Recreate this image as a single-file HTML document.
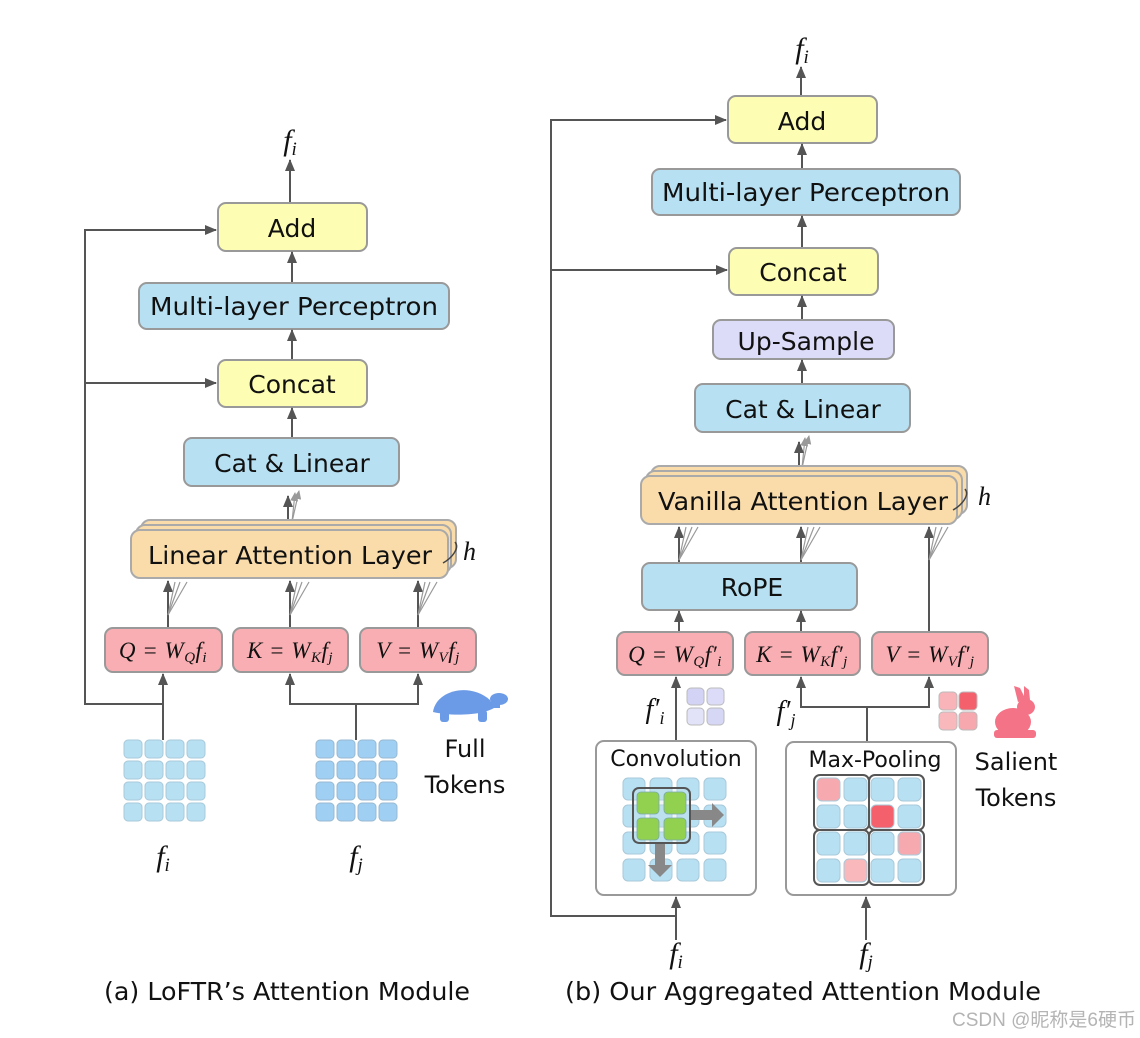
<!DOCTYPE html>
<html><head><meta charset="utf-8">
<style>
html,body{margin:0;padding:0;background:#fff;}
svg{display:block;}
.t{font-family:"DejaVu Sans","Liberation Sans",sans-serif;fill:#111;}
.m{font-family:"Liberation Serif",serif;font-style:italic;fill:#111;}
.ln{stroke:#555;stroke-width:2;fill:none;}
.fan{stroke:#999;stroke-width:1.2;fill:none;}
</style></head><body>
<svg width="1140" height="1038" viewBox="0 0 1140 1038" xmlns="http://www.w3.org/2000/svg">
<defs>
<marker id="a" markerWidth="12" markerHeight="10" refX="11" refY="5" orient="auto" markerUnits="userSpaceOnUse">
<path d="M0,0 L12,5 L0,10 z" fill="#555"/></marker>
<marker id="g" markerWidth="9" markerHeight="8" refX="8" refY="4" orient="auto" markerUnits="userSpaceOnUse">
<path d="M0,0 L9,4 L0,8 z" fill="#999"/></marker>
</defs>

<!-- ================= LEFT ================= -->
<text class="m" x="290" y="150" font-size="30" text-anchor="middle">f<tspan font-size="19" dy="5">i</tspan></text>
<line class="ln" x1="290" y1="203" x2="290" y2="160" marker-end="url(#a)"/>
<rect x="218" y="203" width="149" height="48" rx="8" fill="#fdfdb3" stroke="#999" stroke-width="2"/>
<text class="t" x="292" y="237" font-size="25" text-anchor="middle">Add</text>
<line class="ln" x1="292" y1="283" x2="292" y2="252" marker-end="url(#a)"/>
<rect x="139" y="283" width="310" height="46" rx="8" fill="#b7e1f3" stroke="#999" stroke-width="2"/>
<text class="t" x="294" y="315" font-size="25" text-anchor="middle" textLength="288" lengthAdjust="spacingAndGlyphs">Multi-layer Perceptron</text>
<line class="ln" x1="292" y1="360" x2="292" y2="330" marker-end="url(#a)"/>
<rect x="218" y="360" width="149" height="47" rx="8" fill="#fdfdb3" stroke="#999" stroke-width="2"/>
<text class="t" x="292" y="393" font-size="25" text-anchor="middle">Concat</text>
<line class="ln" x1="292" y1="438" x2="292" y2="408" marker-end="url(#a)"/>
<rect x="184" y="438" width="215" height="48" rx="8" fill="#b7e1f3" stroke="#999" stroke-width="2"/>
<text class="t" x="292" y="472" font-size="25" text-anchor="middle">Cat &amp; Linear</text>
<line class="fan" x1="292" y1="522" x2="299" y2="491" marker-end="url(#g)"/>
<line class="fan" x1="292" y1="522" x2="295" y2="493" marker-end="url(#g)"/>
<line class="ln" x1="288" y1="530" x2="288" y2="496" marker-end="url(#a)"/>
<rect x="141" y="520" width="315" height="48" rx="9" fill="#f9dcaa" stroke="#aaa" stroke-width="2"/>
<rect x="136" y="525" width="315" height="48" rx="9" fill="#f9dcaa" stroke="#aaa" stroke-width="2"/>
<rect x="131" y="530" width="317" height="48" rx="9" fill="#f9dcaa" stroke="#aaa" stroke-width="2"/>
<text class="t" x="290" y="564" font-size="25" text-anchor="middle" textLength="284" lengthAdjust="spacingAndGlyphs">Linear Attention Layer</text>
<path d="M443,563 C452,558 460,548 455,542" stroke="#444" stroke-width="1.5" fill="none"/>
<text class="m" x="463" y="560" font-size="26">h</text>
<g>
<line class="ln" x1="168" y1="628" x2="168" y2="581" marker-end="url(#a)"/>
<line class="fan" x1="168" y1="615" x2="175" y2="582"/><line class="fan" x1="168" y1="615" x2="180" y2="582"/><line class="fan" x1="168" y1="615" x2="187" y2="582"/>
<line class="ln" x1="290" y1="628" x2="290" y2="581" marker-end="url(#a)"/>
<line class="fan" x1="290" y1="615" x2="297" y2="582"/><line class="fan" x1="290" y1="615" x2="302" y2="582"/><line class="fan" x1="290" y1="615" x2="309" y2="582"/>
<line class="ln" x1="418" y1="628" x2="418" y2="581" marker-end="url(#a)"/>
<line class="fan" x1="418" y1="615" x2="425" y2="582"/><line class="fan" x1="418" y1="615" x2="430" y2="582"/><line class="fan" x1="418" y1="615" x2="437" y2="582"/>
</g>
<rect x="105" y="628" width="117" height="44" rx="8" fill="#f8aeb2" stroke="#999" stroke-width="2"/>
<text class="m" x="163" y="658" font-size="23" text-anchor="middle" letter-spacing="0.5">Q = W<tspan font-size="15" dy="4">Q</tspan><tspan dy="-4">f</tspan><tspan font-size="15" dy="4">i</tspan></text>
<rect x="233" y="628" width="115" height="44" rx="8" fill="#f8aeb2" stroke="#999" stroke-width="2"/>
<text class="m" x="290" y="658" font-size="23" text-anchor="middle" letter-spacing="0.5">K = W<tspan font-size="15" dy="4">K</tspan><tspan dy="-4">f</tspan><tspan font-size="15" dy="4">j</tspan></text>
<rect x="360" y="628" width="116" height="44" rx="8" fill="#f8aeb2" stroke="#999" stroke-width="2"/>
<text class="m" x="418" y="658" font-size="23" text-anchor="middle" letter-spacing="0.5">V = W<tspan font-size="15" dy="4">V</tspan><tspan dy="-4">f</tspan><tspan font-size="15" dy="4">j</tspan></text>
<polyline class="ln" points="163,740 163,704 85,704 85,230 216,230" marker-end="url(#a)"/>
<line class="ln" x1="85" y1="383" x2="216" y2="383" marker-end="url(#a)"/>
<line class="ln" x1="163" y1="704" x2="163" y2="674" marker-end="url(#a)"/>
<polyline class="ln" points="356,740 356,704"/>
<polyline class="ln" points="290,704 418,704"/>
<line class="ln" x1="290" y1="705" x2="290" y2="674" marker-end="url(#a)"/>
<line class="ln" x1="418" y1="705" x2="418" y2="674" marker-end="url(#a)"/>
<g fill="#b7e1f3" stroke="#a9c9d9" stroke-width="1">
<rect x="124" y="740" width="18" height="18" rx="4"/><rect x="145" y="740" width="18" height="18" rx="4"/><rect x="166" y="740" width="18" height="18" rx="4"/><rect x="187" y="740" width="18" height="18" rx="4"/>
<rect x="124" y="761" width="18" height="18" rx="4"/><rect x="145" y="761" width="18" height="18" rx="4"/><rect x="166" y="761" width="18" height="18" rx="4"/><rect x="187" y="761" width="18" height="18" rx="4"/>
<rect x="124" y="782" width="18" height="18" rx="4"/><rect x="145" y="782" width="18" height="18" rx="4"/><rect x="166" y="782" width="18" height="18" rx="4"/><rect x="187" y="782" width="18" height="18" rx="4"/>
<rect x="124" y="803" width="18" height="18" rx="4"/><rect x="145" y="803" width="18" height="18" rx="4"/><rect x="166" y="803" width="18" height="18" rx="4"/><rect x="187" y="803" width="18" height="18" rx="4"/>
</g>
<g fill="#9fd0f4" stroke="#98b9d0" stroke-width="1">
<rect x="316" y="740" width="18" height="18" rx="4"/><rect x="337" y="740" width="18" height="18" rx="4"/><rect x="358" y="740" width="18" height="18" rx="4"/><rect x="379" y="740" width="18" height="18" rx="4"/>
<rect x="316" y="761" width="18" height="18" rx="4"/><rect x="337" y="761" width="18" height="18" rx="4"/><rect x="358" y="761" width="18" height="18" rx="4"/><rect x="379" y="761" width="18" height="18" rx="4"/>
<rect x="316" y="782" width="18" height="18" rx="4"/><rect x="337" y="782" width="18" height="18" rx="4"/><rect x="358" y="782" width="18" height="18" rx="4"/><rect x="379" y="782" width="18" height="18" rx="4"/>
<rect x="316" y="803" width="18" height="18" rx="4"/><rect x="337" y="803" width="18" height="18" rx="4"/><rect x="358" y="803" width="18" height="18" rx="4"/><rect x="379" y="803" width="18" height="18" rx="4"/>
</g>
<text class="m" x="163" y="866" font-size="30" text-anchor="middle">f<tspan font-size="19" dy="5">i</tspan></text>
<text class="m" x="356" y="866" font-size="30" text-anchor="middle">f<tspan font-size="19" dy="5">j</tspan></text>
<g fill="#6b9be6">
<path d="M433,712 C436,690 470,682 490,700 L494,708 C480,716 450,716 433,712 z"/>
<ellipse cx="499" cy="699" rx="9" ry="6"/>
<path d="M490,702 L500,702 L500,708 L492,708 z"/>
<rect x="440" y="710" width="9" height="12" rx="3"/>
<rect x="478" y="710" width="9" height="12" rx="3"/>
</g>
<text class="t" x="465" y="757" font-size="24" text-anchor="middle">Full</text>
<text class="t" x="465" y="793" font-size="24" text-anchor="middle">Tokens</text>
<text class="t" x="287" y="1000" font-size="25" text-anchor="middle" textLength="366" lengthAdjust="spacingAndGlyphs">(a) LoFTR’s Attention Module</text>

<!-- ================= RIGHT ================= -->
<text class="m" x="802" y="58" font-size="30" text-anchor="middle">f<tspan font-size="19" dy="5">i</tspan></text>
<line class="ln" x1="801" y1="96" x2="801" y2="67" marker-end="url(#a)"/>
<rect x="728" y="96" width="149" height="47" rx="8" fill="#fdfdb3" stroke="#999" stroke-width="2"/>
<text class="t" x="802" y="130" font-size="25" text-anchor="middle">Add</text>
<line class="ln" x1="802" y1="169" x2="802" y2="144" marker-end="url(#a)"/>
<rect x="652" y="169" width="308" height="46" rx="8" fill="#b7e1f3" stroke="#999" stroke-width="2"/>
<text class="t" x="806" y="201" font-size="25" text-anchor="middle" textLength="288" lengthAdjust="spacingAndGlyphs">Multi-layer Perceptron</text>
<line class="ln" x1="802" y1="248" x2="802" y2="216" marker-end="url(#a)"/>
<rect x="729" y="248" width="149" height="47" rx="8" fill="#fdfdb3" stroke="#999" stroke-width="2"/>
<text class="t" x="803" y="281" font-size="25" text-anchor="middle">Concat</text>
<line class="ln" x1="802" y1="320" x2="802" y2="296" marker-end="url(#a)"/>
<rect x="713" y="320" width="181" height="39" rx="8" fill="#dcdcf8" stroke="#999" stroke-width="2"/>
<text class="t" x="806" y="350" font-size="25" text-anchor="middle">Up-Sample</text>
<line class="ln" x1="802" y1="384" x2="802" y2="360" marker-end="url(#a)"/>
<rect x="695" y="384" width="215" height="48" rx="8" fill="#b7e1f3" stroke="#999" stroke-width="2"/>
<text class="t" x="803" y="418" font-size="25" text-anchor="middle">Cat &amp; Linear</text>
<line class="fan" x1="802" y1="468" x2="809" y2="436" marker-end="url(#g)"/>
<line class="fan" x1="802" y1="468" x2="805" y2="438" marker-end="url(#g)"/>
<line class="ln" x1="799" y1="476" x2="799" y2="442" marker-end="url(#a)"/>
<rect x="651" y="466" width="316" height="48" rx="9" fill="#f9dcaa" stroke="#aaa" stroke-width="2"/>
<rect x="646" y="471" width="316" height="48" rx="9" fill="#f9dcaa" stroke="#aaa" stroke-width="2"/>
<rect x="641" y="476" width="316" height="48" rx="9" fill="#f9dcaa" stroke="#aaa" stroke-width="2"/>
<text class="t" x="803" y="510" font-size="25" text-anchor="middle" textLength="290" lengthAdjust="spacingAndGlyphs">Vanilla Attention Layer</text>
<path d="M953,510 C962,505 970,495 965,489" stroke="#444" stroke-width="1.5" fill="none"/>
<text class="m" x="978" y="505" font-size="26">h</text>
<line class="ln" x1="679" y1="563" x2="679" y2="527" marker-end="url(#a)"/>
<line class="fan" x1="679" y1="560" x2="686" y2="527"/><line class="fan" x1="679" y1="560" x2="692" y2="527"/><line class="fan" x1="679" y1="560" x2="698" y2="527"/>
<line class="ln" x1="801" y1="563" x2="801" y2="527" marker-end="url(#a)"/>
<line class="fan" x1="801" y1="560" x2="808" y2="527"/><line class="fan" x1="801" y1="560" x2="814" y2="527"/><line class="fan" x1="801" y1="560" x2="820" y2="527"/>
<line class="ln" x1="929" y1="632" x2="929" y2="527" marker-end="url(#a)"/>
<line class="fan" x1="929" y1="560" x2="936" y2="527"/><line class="fan" x1="929" y1="560" x2="942" y2="527"/><line class="fan" x1="929" y1="560" x2="948" y2="527"/>
<rect x="642" y="563" width="215" height="47" rx="8" fill="#b7e1f3" stroke="#999" stroke-width="2"/>
<text class="t" x="752" y="596" font-size="25" text-anchor="middle">RoPE</text>
<line class="ln" x1="679" y1="632" x2="679" y2="611" marker-end="url(#a)"/>
<line class="ln" x1="801" y1="632" x2="801" y2="611" marker-end="url(#a)"/>
<rect x="617" y="632" width="116" height="43" rx="8" fill="#f8aeb2" stroke="#999" stroke-width="2"/>
<text class="m" x="675" y="662" font-size="23" text-anchor="middle" letter-spacing="0.5">Q = W<tspan font-size="15" dy="4">Q</tspan><tspan dy="-4">f′</tspan><tspan font-size="15" dy="4">i</tspan></text>
<rect x="745" y="632" width="115" height="43" rx="8" fill="#f8aeb2" stroke="#999" stroke-width="2"/>
<text class="m" x="802" y="662" font-size="23" text-anchor="middle" letter-spacing="0.5">K = W<tspan font-size="15" dy="4">K</tspan><tspan dy="-4">f′</tspan><tspan font-size="15" dy="4">j</tspan></text>
<rect x="872" y="632" width="116" height="43" rx="8" fill="#f8aeb2" stroke="#999" stroke-width="2"/>
<text class="m" x="930" y="662" font-size="23" text-anchor="middle" letter-spacing="0.5">V = W<tspan font-size="15" dy="4">V</tspan><tspan dy="-4">f′</tspan><tspan font-size="15" dy="4">j</tspan></text>
<polyline class="ln" points="676,916 551,916 551,120 726,120" marker-end="url(#a)"/>
<line class="ln" x1="551" y1="270" x2="727" y2="270" marker-end="url(#a)"/>
<line class="ln" x1="676" y1="741" x2="676" y2="677" marker-end="url(#a)"/>
<line class="ln" x1="867" y1="742" x2="867" y2="707"/>
<line class="ln" x1="801" y1="707" x2="929" y2="707"/>
<line class="ln" x1="801" y1="708" x2="801" y2="677" marker-end="url(#a)"/>
<line class="ln" x1="929" y1="708" x2="929" y2="677" marker-end="url(#a)"/>
<text class="m" x="655" y="718" font-size="28" text-anchor="middle">f′<tspan font-size="18" dy="6">i</tspan></text>
<text class="m" x="786" y="720" font-size="28" text-anchor="middle">f′<tspan font-size="18" dy="6">j</tspan></text>
<g stroke="#bbb" stroke-width="1">
<rect x="687" y="688" width="17" height="17" rx="4" fill="#d3d3f5"/><rect x="707" y="688" width="17" height="17" rx="4" fill="#dcdcf8"/>
<rect x="687" y="708" width="17" height="17" rx="4" fill="#e2e2f9"/><rect x="707" y="708" width="17" height="17" rx="4" fill="#d6d6f5"/>
<rect x="939" y="692" width="18" height="18" rx="4" fill="#f8b4b8"/><rect x="959" y="692" width="18" height="18" rx="4" fill="#f4606c"/>
<rect x="939" y="712" width="18" height="18" rx="4" fill="#f8b8bc"/><rect x="959" y="712" width="18" height="18" rx="4" fill="#f6a8ae"/>
</g>
<g fill="#f47386">
<ellipse cx="1013" cy="722" rx="18" ry="14"/>
<ellipse cx="1026" cy="707" rx="9" ry="8"/>
<path d="M1018,702 L1014,686 L1020,688 L1026,700 z"/>
<path d="M1024,700 L1024,686 L1029,690 L1030,700 z"/>
<rect x="994" y="730" width="42" height="8" rx="3"/>
</g>
<text class="t" x="1016" y="770" font-size="24" text-anchor="middle">Salient</text>
<text class="t" x="1016" y="806" font-size="24" text-anchor="middle">Tokens</text>
<rect x="596" y="741" width="160" height="154" rx="8" fill="#fff" stroke="#999" stroke-width="2"/>
<text class="t" x="676" y="766" font-size="22" text-anchor="middle">Convolution</text>
<g fill="#b7e1f3" stroke="#a9c9d9" stroke-width="1">
<rect x="623" y="778" width="22" height="22" rx="5"/><rect x="650" y="778" width="22" height="22" rx="5"/><rect x="677" y="778" width="22" height="22" rx="5"/><rect x="704" y="778" width="22" height="22" rx="5"/>
<rect x="623" y="805" width="22" height="22" rx="5"/><rect x="650" y="805" width="22" height="22" rx="5"/><rect x="677" y="805" width="22" height="22" rx="5"/><rect x="704" y="805" width="22" height="22" rx="5"/>
<rect x="623" y="832" width="22" height="22" rx="5"/><rect x="650" y="832" width="22" height="22" rx="5"/><rect x="677" y="832" width="22" height="22" rx="5"/><rect x="704" y="832" width="22" height="22" rx="5"/>
<rect x="623" y="859" width="22" height="22" rx="5"/><rect x="650" y="859" width="22" height="22" rx="5"/><rect x="677" y="859" width="22" height="22" rx="5"/><rect x="704" y="859" width="22" height="22" rx="5"/>
</g>
<path d="M690,810 L712,810 L712,803 L724,815 L712,827 L712,820 L690,820 z" fill="#888"/>
<path d="M655,843 L665,843 L665,865 L672,865 L660,877 L648,865 L655,865 z" fill="#888"/>
<rect x="633" y="788" width="57" height="55" rx="6" fill="#c9dde6" fill-opacity="0.3" stroke="#555" stroke-width="2"/>
<g fill="#92d050" stroke="#7aa" stroke-width="0.8">
<rect x="637" y="792" width="22" height="22" rx="4"/><rect x="664" y="792" width="22" height="22" rx="4"/>
<rect x="637" y="818" width="22" height="22" rx="4"/><rect x="664" y="818" width="22" height="22" rx="4"/>
</g>
<rect x="786" y="742" width="170" height="153" rx="8" fill="#fff" stroke="#999" stroke-width="2"/>
<text class="t" x="875" y="767" font-size="22" text-anchor="middle">Max-Pooling</text>
<g stroke="#a9c9d9" stroke-width="1">
<rect x="817" y="778" width="23" height="23" rx="5" fill="#f6aab0"/><rect x="844" y="778" width="23" height="23" rx="5" fill="#b7e1f3"/><rect x="871" y="778" width="23" height="23" rx="5" fill="#b7e1f3"/><rect x="898" y="778" width="23" height="23" rx="5" fill="#b7e1f3"/>
<rect x="817" y="805" width="23" height="23" rx="5" fill="#b7e1f3"/><rect x="844" y="805" width="23" height="23" rx="5" fill="#b7e1f3"/><rect x="871" y="805" width="23" height="23" rx="5" fill="#f4606c"/><rect x="898" y="805" width="23" height="23" rx="5" fill="#b7e1f3"/>
<rect x="817" y="832" width="23" height="23" rx="5" fill="#b7e1f3"/><rect x="844" y="832" width="23" height="23" rx="5" fill="#b7e1f3"/><rect x="871" y="832" width="23" height="23" rx="5" fill="#b7e1f3"/><rect x="898" y="832" width="23" height="23" rx="5" fill="#f6aab0"/>
<rect x="817" y="859" width="23" height="23" rx="5" fill="#b7e1f3"/><rect x="844" y="859" width="23" height="23" rx="5" fill="#f8b8bc"/><rect x="871" y="859" width="23" height="23" rx="5" fill="#b7e1f3"/><rect x="898" y="859" width="23" height="23" rx="5" fill="#b7e1f3"/>
</g>
<g fill="none" stroke="#555" stroke-width="2">
<rect x="814" y="775" width="55" height="55" rx="6"/><rect x="869" y="775" width="55" height="55" rx="6"/>
<rect x="814" y="830" width="55" height="55" rx="6"/><rect x="869" y="830" width="55" height="55" rx="6"/>
</g>
<line class="ln" x1="676" y1="940" x2="676" y2="897" marker-end="url(#a)"/>
<line class="ln" x1="866" y1="940" x2="866" y2="897" marker-end="url(#a)"/>
<text class="m" x="676" y="963" font-size="30" text-anchor="middle">f<tspan font-size="19" dy="5">i</tspan></text>
<text class="m" x="866" y="963" font-size="30" text-anchor="middle">f<tspan font-size="19" dy="5">j</tspan></text>
<text class="t" x="803" y="1000" font-size="25" text-anchor="middle" textLength="476" lengthAdjust="spacingAndGlyphs">(b) Our Aggregated Attention Module</text>
<text x="1136" y="1026" font-size="19" text-anchor="end" fill="#b4b4b4" font-family="'Liberation Sans','Noto Sans CJK SC',sans-serif">CSDN @昵称是6硬币</text>
</svg>
</body></html>
